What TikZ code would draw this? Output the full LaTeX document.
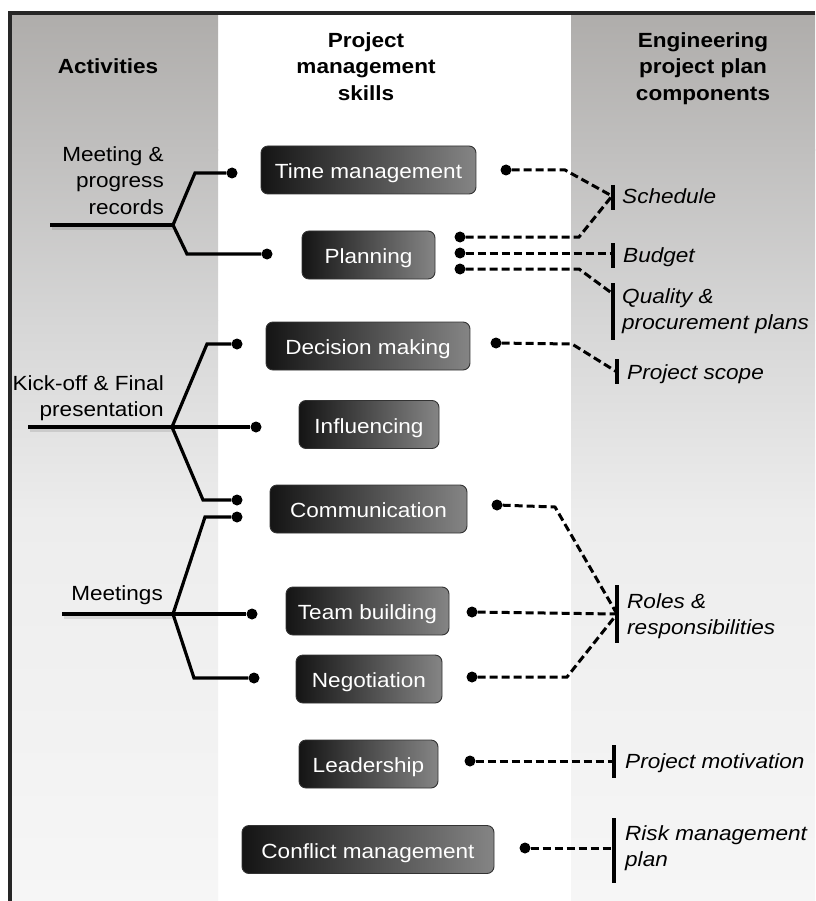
\documentclass[tikz,border=0pt]{standalone}
\usepackage{fontspec}
\setmainfont{Liberation Sans}[FakeStretch=1.1]
\newcommand\mybody{\fontsize{20.5}{26.8}\selectfont}
\definecolor{framecol}{HTML}{262626}
\definecolor{gA}{HTML}{AFADAB}
\definecolor{gB}{HTML}{C0BFBE}
\definecolor{gC}{HTML}{D6D6D6}
\definecolor{gD}{HTML}{EDEDED}
\definecolor{gE}{HTML}{F6F6F6}
\tikzset{
  dot/.style={circle,fill=black,inner sep=0pt,minimum size=11pt},
  skill/.style={draw=black!80,line width=0.9pt,rounded corners=7pt,
    left color=black!92,right color=black!48,text=white,
    minimum height=48pt,inner sep=0pt,text height=19pt,text depth=2pt,font=\mybody},
  act/.style={line width=3.2pt,line join=miter},
  actshadow/.style={line width=4pt,draw=black,opacity=0.10},
  conn/.style={line width=3pt,dash pattern=on 8pt off 4pt},
  bar/.style={line width=3.6pt},
  hdr/.style={inner sep=0pt,font=\mybody\bfseries,align=center},
  albl/.style={inner sep=0pt,font=\mybody,align=right,anchor=north east},
  rlbl/.style={inner sep=0pt,font=\mybody\itshape,align=left,anchor=north west},
}
\begin{document}
\begin{tikzpicture}[x=1pt,y=-1pt]
\useasboundingbox (0,0) rectangle (815,901);
\fill[white] (0,0) rectangle (815,901);
% side columns with vertical gradient
\foreach \xa/\xb in {12/218,571/815}{
  \shade[top color=gA,bottom color=gB] (\xa,15) rectangle (\xb,150.5);
  \shade[top color=gB,bottom color=gC] (\xa,150) rectangle (\xb,320.5);
  \shade[top color=gC,bottom color=gD] (\xa,320) rectangle (\xb,520.5);
  \shade[top color=gD,bottom color=gE] (\xa,520) rectangle (\xb,901);
}
% frame
\fill[framecol] (8,11) rectangle (815,15);
\fill[framecol] (8,11) rectangle (12,901);

% headers
\node[hdr,anchor=base] (h1) at (108,74) {Activities};
\node[hdr,anchor=north] (h2) at (366,32) {Project\\management\\skills};
\node[hdr,anchor=north] (h3) at (703,32) {Engineering\\project plan\\components};

% skill boxes
\node[skill,minimum width=215pt] (tm) at (368.5,170) {Time management};
\node[skill,minimum width=133pt] (pl) at (368.5,255) {Planning};
\node[skill,minimum width=204pt] (dm) at (368,346) {Decision making};
\node[skill,minimum width=140pt] (in) at (369,424.5) {Influencing};
\node[skill,minimum width=197pt] (co) at (368.5,509) {Communication};
\node[skill,minimum width=163pt] (tb) at (367.5,611) {Team building};
\node[skill,minimum width=146pt] (ne) at (369,679) {Negotiation};
\node[skill,minimum width=139pt] (le) at (368.5,764) {Leadership};
\node[skill,minimum width=252pt] (cm) at (368,849.5) {Conflict management};

% activity labels
\node[albl] (a1) at (164,146) {Meeting \&\\progress\\records};
\node[albl] (a2) at (164,375) {Kick-off \& Final\\presentation};
\node[albl] (a3) at (163,585) {Meetings};

% left dots
\node[dot] (lTM) at (232,173) {};
\node[dot] (lPL) at (267,254) {};
\node[dot] (lDM) at (237,344) {};
\node[dot] (lIN) at (256,427) {};
\node[dot] (lCOa) at (237,500) {};
\node[dot] (lCOb) at (237,517) {};
\node[dot] (lTB) at (252,614) {};
\node[dot] (lNE) at (254,678) {};

% activity trees
\coordinate (m0) at (50,225);  \coordinate (mb) at (173,225);
\coordinate (mu) at (195,173); \coordinate (md) at (187,254);
\coordinate (k0) at (28,427);  \coordinate (kb) at (172,427);
\coordinate (ku) at (207,344); \coordinate (kd) at (203,500);
\coordinate (e0) at (62,614);  \coordinate (eb) at (173,614);
\coordinate (eu) at (205,517); \coordinate (ed) at (194,678);
\draw[actshadow] ([shift={(2pt,-3pt)}]m0) -- ([shift={(0pt,-3pt)}]mb);
\draw[actshadow] ([shift={(2pt,-3pt)}]k0) -- ([shift={(0pt,-3pt)}]kb);
\draw[actshadow] ([shift={(2pt,-3pt)}]e0) -- ([shift={(0pt,-3pt)}]eb);
\draw[act] (m0) -- (mb);
\draw[act] (mb) -- (mu) -- (lTM);
\draw[act] (mb) -- (md) -- (lPL);
\draw[act] (k0) -- (kb);
\draw[act] (kb) -- (ku) -- (lDM);
\draw[act] (kb) -- (lIN);
\draw[act] (kb) -- (kd) -- (lCOa);
\draw[act] (e0) -- (eb);
\draw[act] (eb) -- (eu) -- (lCOb);
\draw[act] (eb) -- (lTB);
\draw[act] (eb) -- (ed) -- (lNE);

% right dots
\node[dot] (rTM) at (506,170) {};
\node[dot] (rPL1) at (460,237) {};
\node[dot] (rPL2) at (460,253) {};
\node[dot] (rPL3) at (460,269) {};
\node[dot] (rDM) at (496,343) {};
\node[dot] (rCO) at (497,505) {};
\node[dot] (rTB) at (472,612) {};
\node[dot] (rNE) at (472,677) {};
\node[dot] (rLE) at (470,761) {};
\node[dot] (rCM) at (525,848) {};

% bars
\coordinate (sch1) at (613,185); \coordinate (sch2) at (613,210); \coordinate (schm) at (612,196);
\coordinate (bud1) at (613,243); \coordinate (bud2) at (613,268); \coordinate (budm) at (613,253);
\coordinate (qua1) at (613,283); \coordinate (qua2) at (613,340); \coordinate (quam) at (613,294);
\coordinate (sco1) at (617,359); \coordinate (sco2) at (617,384); \coordinate (scom) at (617,372);
\coordinate (rol1) at (617,585); \coordinate (rol2) at (617,643); \coordinate (rolm) at (617,614);
\coordinate (mot1) at (614,745); \coordinate (mot2) at (614,778); \coordinate (motm) at (614,761);
\coordinate (ris1) at (614,818); \coordinate (ris2) at (614,883); \coordinate (rism) at (614,848);
\foreach \p in {sch,bud,qua,sco,rol,mot,ris}{
  \draw[bar] (\p1) -- (\p2);
}

% dashed connectors
\coordinate (cTM) at (565,170);
\coordinate (cPL1) at (579,237);
\coordinate (cPL3) at (579,269);
\coordinate (cDM) at (572,344);
\coordinate (cCO) at (555,507);
\coordinate (cNE) at (567,677);
\draw[conn] (rTM) -- (cTM) -- (schm);
\draw[conn] (rPL1) -- (cPL1) -- (schm);
\draw[conn] (rPL2) -- (budm);
\draw[conn] (rPL3) -- (cPL3) -- (quam);
\draw[conn] (rDM) -- (cDM) -- (scom);
\draw[conn] (rCO) -- (cCO) -- (rolm);
\draw[conn] (rTB) -- (rolm);
\draw[conn] (rNE) -- (cNE) -- (rolm);
\draw[conn] (rLE) -- (motm);
\draw[conn] (rCM) -- (rism);

% component labels
\node[rlbl] (p1) at (622,188) {Schedule};
\node[rlbl] (p2) at (623,247) {Budget};
\node[rlbl] (p3) at (622,288) {Quality \&\\procurement plans};
\node[rlbl] (p4) at (627,364) {Project scope};
\node[rlbl] (p5) at (627,593) {Roles \&\\responsibilities};
\node[rlbl] (p6) at (625,753) {Project motivation};
\node[rlbl] (p7) at (625,825) {Risk management\\plan};
\end{tikzpicture}
\end{document}
